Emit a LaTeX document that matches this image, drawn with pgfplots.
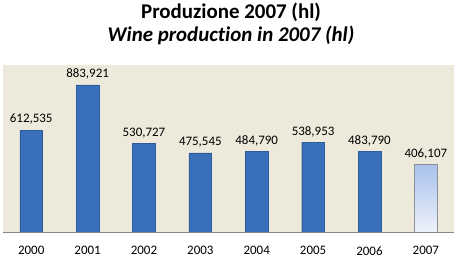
\documentclass[border=0pt]{standalone}
\usepackage{pgfplots}
\pgfplotsset{compat=1.18}
\usepackage{fontspec}
\setmainfont{Carlito}[Ligatures=NoCommon]
\definecolor{bgbeige}{HTML}{EDE9DB}
\definecolor{bardark}{HTML}{2E5C9A}
\definecolor{barside}{HTML}{3A70BA}
\definecolor{barmid}{HTML}{4A8AD9}
\definecolor{lighttop}{HTML}{A9C1EA}
\definecolor{lightbot}{HTML}{EEF2FC}
\definecolor{axgray}{HTML}{868686}
\begin{document}
\begin{tikzpicture}
\useasboundingbox (0,0) rectangle (462bp,265bp);
\node[font=\fontsize{21}{24}\selectfont\bfseries] at (231bp,253bp) {Produzione 2007 (hl)};
\node[font=\fontsize{21}{24}\selectfont\bfseries\itshape] at (231bp,230bp) {Wine production in 2007 (hl)};
\begin{axis}[
  at={(3bp,33bp)}, anchor=south west,
  scale only axis,
  width=451bp, height=166.5bp,
  xmin=-0.5, xmax=7.5,
  ymin=0, ymax=1000000,
  axis background/.style={fill=bgbeige},
  axis line style={draw=none},
  xtick={0,...,7},
  xticklabels={2000,2001,2002,2003,2004,2005,2006,2007},
  xticklabel style={font=\fontsize{13}{15}\selectfont, yshift=-11bp},
  major tick length=0pt,
  ytick=\empty,
  ybar, bar width=22.7bp,
  point meta=explicit symbolic,
  nodes near coords,
  every node near coord/.append style={font=\fontsize{13}{15}\selectfont, yshift=2bp},
  clip=false,
]
\addplot[bar shift=0pt, draw=bardark, shading=axis, left color=barside, middle color=barmid, right color=barside] coordinates {
(0,612535) [612,535] (1,883921) [883,921] (2,530727) [530,727] (3,475545) [475,545] (4,484790) [484,790] (5,538953) [538,953] (6,483790) [483,790]};
\addplot[bar shift=0pt, draw=axgray!80!lighttop, top color=lighttop, bottom color=lightbot] coordinates {(7,406107) [406,107]};
\draw[axgray, line width=0.8bp] (axis cs:-0.5,0) -- (axis cs:7.5,0);
\end{axis}
\end{tikzpicture}
\end{document}
